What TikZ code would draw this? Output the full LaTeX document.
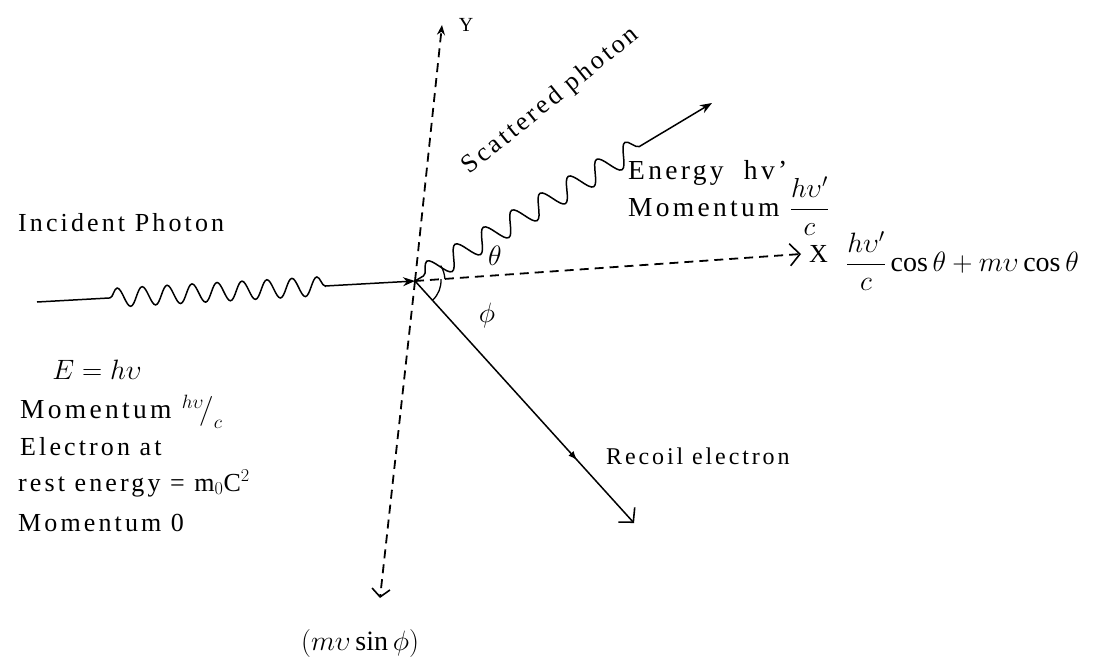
\documentclass[tikz,border=0pt]{standalone}
\usepackage{fix-cm}
\usepackage{amsmath}
\usepackage{fontspec}
\setmainfont{Liberation Serif}[LetterSpace=12]
\usetikzlibrary{arrows.meta,positioning,decorations.pathmorphing,decorations.markings}
\tikzset{node distance=2.0cm, auto}
\tikzset{
  txt/.style={font=\fontsize{24}{30}\selectfont, inner sep=0pt},
  wide/.style={font=\fontsize{26}{30}\selectfont, inner sep=0pt},
  wider/.style={font=\fontsize{27.5}{30}\selectfont, inner sep=0pt},
  big/.style={font=\fontsize{28}{32}\selectfont, inner sep=0pt},
  axis/.style={line width=1.8pt, dash pattern=on 9pt off 6pt},
  ray/.style={line width=1.5pt},
  openhead/.style={-{Straight Barb[length=10pt,width=22pt,line width=1.6pt]}}
}

\begin{document}
\begin{tikzpicture}[x=1pt, y=-1pt, >={Stealth[length=12pt,width=9pt]}]
\useasboundingbox (0,0) rectangle (1119,667);
\coordinate (O) at (415,281);
\coordinate (src) at (37,302);
\coordinate (ytop) at (442,25);
\coordinate (ybot) at (380,598);
\coordinate (xend) at (801,254);
\coordinate (sc) at (712,103);
\coordinate (re) at (634,523);

\draw[axis, -{Stealth[length=10pt,width=8pt]}] (O) -- (ytop);
\draw[axis, -{Straight Barb[length=8pt,width=18pt,line width=1.6pt]}] (O) -- (ybot);
\draw[axis, openhead] (O) -- (xend);

\draw[ray, ->, decorate, decoration={snake, amplitude=9.5pt, segment length=25pt,
  pre length=73pt, post length=80pt}] (src) -- (O);
\draw[ray, ->, decorate, decoration={snake, amplitude=11pt, segment length=33pt,
  pre length=10pt, post length=75pt}] (O) -- (sc);
\draw[ray, openhead, postaction={decorate}, decoration={markings,
  mark=at position 0.74 with {\arrow{Latex[length=9pt,width=7pt]}}}] (O) -- (re);

\draw[line width=1.3pt] (O) ++(-4:30) arc[start angle=-4, end angle=-31, radius=30];
\draw[line width=1.3pt] (O) ++(-4:26) arc[start angle=-4, end angle=47, radius=26];

\node[big] (theta) at (495,256) {$\theta$};
\node[big] (phi) at (487,315) {$\phi$};
\node[txt, font=\fontsize{20}{24}\selectfont] (ylab) at (466,25) {Y};
\node[wide, right=8pt of xend] (xlab) {X};
\node[big, anchor=west] (xsum) at (846,261) {$\dfrac{h\upsilon'}{c}\cos\theta+m\upsilon\cos\theta$};

\node[wide, rotate=39] (scl) at (551,101) {Scattered photon};
\node[wider, anchor=west] (en) at (628,173) {Energy\ \ hv'};
\node[wider, anchor=west] (mom) at (628,206) {Momentum $\dfrac{h\upsilon'}{c}$};

\node[wide, anchor=west] (inc) at (18,223) {Incident Photon};
\node[big] (E) at (97,370) {$E=h\upsilon$};
\node[wider, anchor=base west] (m1) at (20,418) {Momentum $^{h\upsilon}\!\big/_{c}$};
\node[wide, anchor=base west] (m2) at (20,455) {Electron at};
\node[wide, anchor=base west] (m3) at (18,491) {rest energy = m$_0$C$^2$};
\node[wide, anchor=base west] (m4) at (18,531) {Momentum 0};

\node[txt, anchor=west] (rec) at (606,456) {Recoil electron};
\node[big] (msin) at (360,643) {$(m\upsilon\sin\phi)$};
\end{tikzpicture}
\end{document}
